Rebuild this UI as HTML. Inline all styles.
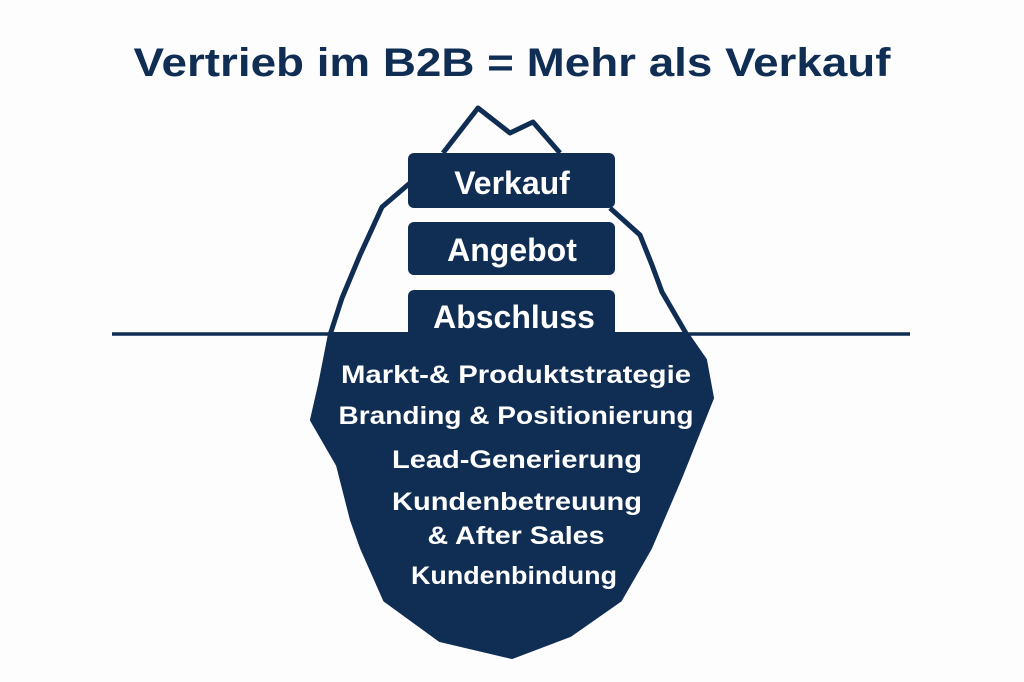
<!DOCTYPE html>
<html><head><meta charset="utf-8"><style>
body{margin:0;background:#fdfdfd;}
svg{display:block}
text{font-family:"Liberation Sans",sans-serif;font-weight:bold;}
</style></head><body>
<svg width="1024" height="682" viewBox="0 0 1024 682">
<text x="512" y="76" text-anchor="middle" font-size="40" fill="#102d54" textLength="757" lengthAdjust="spacingAndGlyphs">Vertrieb im B2B = Mehr als Verkauf</text>
<g fill="none" stroke="#102d54" stroke-width="5" stroke-linejoin="round">
<polyline points="443,153 478,108 510,133 533,122 560,153"/>
<polyline points="410,183 382,207 360,255 342,298 330,335"/>
<polyline points="610,208 640,235 652,265 662,292 687,335"/>
</g>
<line x1="112" y1="334" x2="910" y2="334" stroke="#102d54" stroke-width="3.5"/>
<path d="M330,334 L320,385 L312,420 L338,465 L352,520 L362,548 L385,600 L440,640 L512,657 L570,635 L620,600 L650,548 L680,478 L712,398 L705,360 L687,334 Z" fill="#102d54" stroke="#102d54" stroke-width="4" stroke-linejoin="round"/>
<g fill="#102d54">
<rect x="408" y="153" width="207" height="55" rx="6"/>
<rect x="408" y="222" width="207" height="53" rx="6"/>
<rect x="408" y="290" width="207" height="50" rx="6"/>
</g>
<g fill="#fff" text-anchor="middle">
<text x="512" y="194" font-size="32">Verkauf</text>
<text x="512" y="261" font-size="32">Angebot</text>
<text x="514" y="328" font-size="32">Abschluss</text>
<g font-size="25">
<text x="516" y="383" textLength="350" lengthAdjust="spacingAndGlyphs">Markt-&amp; Produktstrategie</text>
<text x="516" y="424" textLength="355" lengthAdjust="spacingAndGlyphs">Branding &amp; Positionierung</text>
<text x="517" y="468" textLength="250" lengthAdjust="spacingAndGlyphs">Lead-Generierung</text>
<text x="517" y="510" textLength="250" lengthAdjust="spacingAndGlyphs">Kundenbetreuung</text>
<text x="516" y="544" textLength="177" lengthAdjust="spacingAndGlyphs">&amp; After Sales</text>
<text x="514" y="584" textLength="206" lengthAdjust="spacingAndGlyphs">Kundenbindung</text>
</g>
</g>
</svg>
</body></html>
